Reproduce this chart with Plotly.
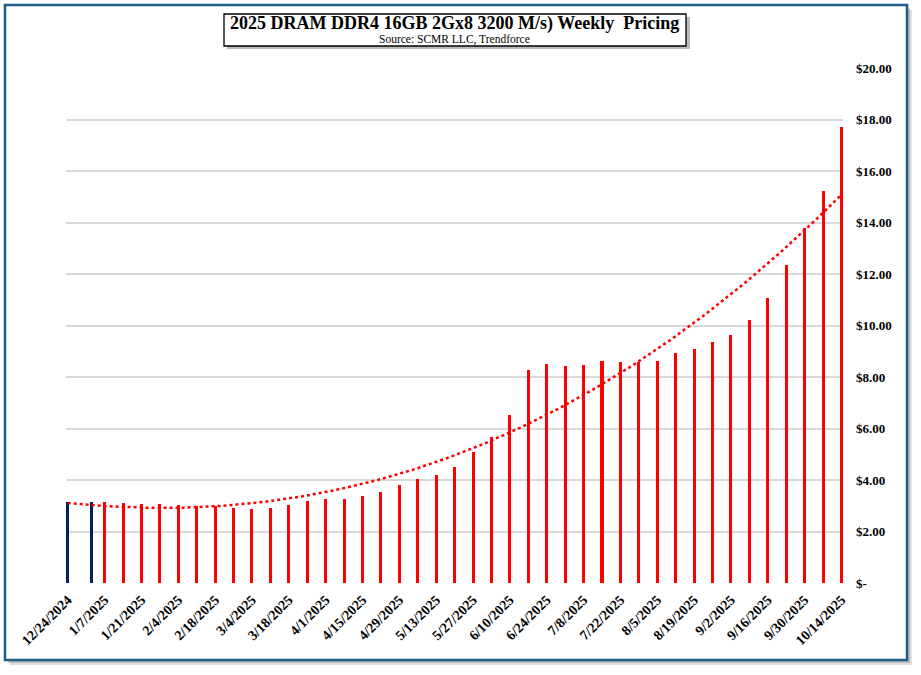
import numpy as np
import pandas as pd
import plotly.graph_objects as go

# ---------------- data ----------------
navy_dates = ["2024-12-24", "2025-01-02"]
navy_prices = [3.16, 3.16]

red_dates = [
    "2025-01-07", "2025-01-14", "2025-01-21", "2025-01-28",
    "2025-02-04", "2025-02-11", "2025-02-18", "2025-02-25",
    "2025-03-04", "2025-03-11", "2025-03-18", "2025-03-25",
    "2025-04-01", "2025-04-08", "2025-04-15", "2025-04-22", "2025-04-29",
    "2025-05-06", "2025-05-13", "2025-05-20", "2025-05-27",
    "2025-06-03", "2025-06-10", "2025-06-17", "2025-06-24",
    "2025-07-01", "2025-07-08", "2025-07-15", "2025-07-22", "2025-07-29",
    "2025-08-05", "2025-08-12", "2025-08-19", "2025-08-26",
    "2025-09-02", "2025-09-09", "2025-09-16", "2025-09-23", "2025-09-30",
    "2025-10-07", "2025-10-14",
]
red_prices = [
    3.13, 3.09, 3.08, 3.06,
    3.03, 2.98, 3.00, 2.91,
    2.88, 2.90, 3.01, 3.18,
    3.25, 3.25, 3.38, 3.55, 3.81,
    4.04, 4.18, 4.52, 5.09,
    5.66, 6.52, 8.27, 8.52,
    8.43, 8.47, 8.62, 8.58, 8.57,
    8.62, 8.92, 9.09, 9.36,
    9.62, 10.20, 11.07, 12.36, 13.80,
    15.24, 17.70,
]

tick_dates = [
    "2024-12-24", "2025-01-07", "2025-01-21", "2025-02-04", "2025-02-18",
    "2025-03-04", "2025-03-18", "2025-04-01", "2025-04-15", "2025-04-29",
    "2025-05-13", "2025-05-27", "2025-06-10", "2025-06-24", "2025-07-08",
    "2025-07-22", "2025-08-05", "2025-08-19", "2025-09-02", "2025-09-16",
    "2025-09-30", "2025-10-14",
]
tick_labels = [
    "12/24/2024", "1/7/2025", "1/21/2025", "2/4/2025", "2/18/2025",
    "3/4/2025", "3/18/2025", "4/1/2025", "4/15/2025", "4/29/2025",
    "5/13/2025", "5/27/2025", "6/10/2025", "6/24/2025", "7/8/2025",
    "7/22/2025", "8/5/2025", "8/19/2025", "9/2/2025", "9/16/2025",
    "9/30/2025", "10/14/2025",
]
y_ticks = [0, 2, 4, 6, 8, 10, 12, 14, 16, 18, 20]
y_labels = ["$-", "$2.00", "$4.00", "$6.00", "$8.00", "$10.00",
            "$12.00", "$14.00", "$16.00", "$18.00", "$20.00"]

title_text = "2025 DRAM DDR4 16GB 2Gx8 3200 M/s) Weekly  Pricing"
subtitle_text = "Source: SCMR LLC, Trendforce"

# ---------------- trendline (polynomial fit of the data) ----------------
all_dates = pd.to_datetime(navy_dates + red_dates)
all_prices = np.array(navy_prices + red_prices)
t0 = all_dates[0]
days = np.array([(d - t0).days for d in all_dates], dtype=float)
trend_days = pd.date_range(all_dates[0], all_dates[-1], freq="D")
tdays = np.array([(d - t0).days for d in trend_days], dtype=float)
coef = np.polyfit(days, all_prices, 3)
trend_vals = np.polyval(coef, tdays)

# ---------------- layout geometry ----------------
W, H = 921, 675
L, R, T, B = 66, 78, 68, 92
PW, PH = W - L - R, H - T - B

def px(x):
    return (x - L) / PW

def py(y):
    return (H - B - y) / PH

FONT = "Liberation Serif, Tinos, Times New Roman, DejaVu Serif, serif"
bar_w = 1.15 * 86400000

fig = go.Figure()
fig.add_trace(go.Bar(x=navy_dates, y=navy_prices, width=bar_w,
                     marker=dict(color="#002060", line=dict(width=0)),
                     showlegend=False, hoverinfo="x+y"))
fig.add_trace(go.Bar(x=red_dates, y=red_prices, width=bar_w,
                     marker=dict(color="#FF0000", line=dict(width=0)),
                     showlegend=False, hoverinfo="x+y"))
fig.add_trace(go.Scatter(x=trend_days, y=trend_vals, mode="lines",
                         line=dict(color="#FF0000", width=2.5, dash="dot"),
                         showlegend=False, hoverinfo="skip"))

shapes = [
    # outer frame shadow
    dict(type="rect", xref="paper", yref="paper", layer="below",
         x0=px(10), x1=px(912), y0=py(10), y1=py(665),
         fillcolor="rgba(110,110,110,0.22)", line=dict(width=0)),
    dict(type="rect", xref="paper", yref="paper", layer="below",
         x0=px(8), x1=px(910), y0=py(8), y1=py(663),
         fillcolor="rgba(110,110,110,0.3)", line=dict(width=0)),
    # outer frame
    dict(type="rect", xref="paper", yref="paper", layer="below",
         x0=px(5), x1=px(907), y0=py(5), y1=py(660),
         fillcolor="white", line=dict(color="#1F5C87", width=2.5)),
    # title box shadow
    dict(type="rect", xref="paper", yref="paper", layer="above",
         x0=px(227), x1=px(690), y0=py(17), y1=py(49),
         fillcolor="rgba(100,100,100,0.45)", line=dict(width=0)),
    # title box
    dict(type="rect", xref="paper", yref="paper", layer="above",
         x0=px(224), x1=px(686), y0=py(14), y1=py(46),
         fillcolor="white", line=dict(color="black", width=1.3)),
]

annotations = [
    dict(text="<b>" + title_text + "</b>", xref="paper", yref="paper",
         x=px(455), y=py(23), xanchor="center", yanchor="middle",
         showarrow=False, font=dict(family=FONT, size=18, color="black")),
    dict(text=subtitle_text, xref="paper", yref="paper",
         x=px(455), y=py(40), xanchor="center", yanchor="middle",
         showarrow=False, font=dict(family=FONT, size=11.5, color="black")),
]

fig.update_layout(
    width=W, height=H,
    margin=dict(l=L, r=R, t=T, b=B, pad=0),
    paper_bgcolor="white", plot_bgcolor="rgba(0,0,0,0)",
    bargap=0, showlegend=False,
    shapes=shapes, annotations=annotations,
    font=dict(family=FONT, color="black"),
    xaxis=dict(type="date",
               range=["2024-12-23 08:00", "2025-10-14 14:00"],
               tickvals=tick_dates, ticktext=tick_labels,
               tickangle=-45, showgrid=False, zeroline=False,
               showline=False, ticks="", ticklabelstandoff=5,
               tickfont=dict(family=FONT, size=14, color="black", weight="bold")),
    yaxis=dict(side="right", range=[0, 20], tickvals=y_ticks, ticktext=y_labels,
               showgrid=True, gridcolor="#D9D9D9", gridwidth=1.5,
               zeroline=False, showline=False, ticks="",
               ticklabelstandoff=12,
               tickfont=dict(family=FONT, size=13, color="black", weight="bold")),
)

fig.write_html("out.html", config={"displayModeBar": False},
               post_script="document.body.style.margin='0';document.body.style.overflow='hidden';")
